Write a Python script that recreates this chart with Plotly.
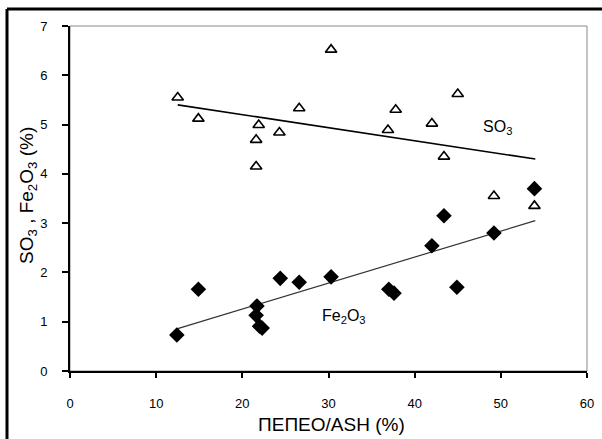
import plotly.graph_objects as go

# ---- data ----
so3_x = [12.5, 14.9, 21.9, 21.6, 21.6, 24.3, 26.6, 30.3, 36.9, 37.8, 42.0, 43.4, 45.0, 49.2, 53.9]
so3_y = [5.55, 5.12, 4.99, 4.69, 4.15, 4.84, 5.33, 6.52, 4.89, 5.30, 5.02, 4.35, 5.62, 3.55, 3.35]

fe_x = [12.4, 14.9, 21.7, 21.6, 22.0, 22.3, 24.4, 26.6, 30.3, 37.0, 37.6, 42.0, 43.4, 44.9, 49.2, 53.9]
fe_y = [0.73, 1.66, 1.32, 1.13, 0.91, 0.87, 1.88, 1.80, 1.91, 1.66, 1.58, 2.54, 3.15, 1.70, 2.80, 3.70]

so3_trend_x = [12.5, 54.0]
so3_trend_y = [5.40, 4.30]
fe_trend_x = [12.5, 54.0]
fe_trend_y = [0.86, 3.05]

x_ticks = [0, 10, 20, 30, 40, 50, 60]
y_ticks = [0, 1, 2, 3, 4, 5, 6, 7]

W, H = 602, 439
L, R, T, B = 70, 15, 26, 68
pw, ph = W - L - R, H - T - B

def px(x_page):
    return (x_page - L) / pw

def py(y_page):
    return (H - B - y_page) / ph

fig = go.Figure()
fig.add_trace(go.Scatter(x=so3_trend_x, y=so3_trend_y, mode="lines",
                         line=dict(color="black", width=1.6), showlegend=False))
fig.add_trace(go.Scatter(x=fe_trend_x, y=fe_trend_y, mode="lines",
                         line=dict(color="#333333", width=1.2), showlegend=False))
fig.add_trace(go.Scatter(x=so3_x, y=so3_y, mode="markers",
                         marker=dict(symbol="triangle-up-open", size=10, color="black",
                                     line=dict(width=1.6, color="black")),
                         showlegend=False))
fig.add_trace(go.Scatter(x=fe_x, y=fe_y, mode="markers",
                         marker=dict(symbol="diamond", size=12, color="black",
                                     line=dict(width=0)),
                         showlegend=False))

tickfont = dict(family="Liberation Sans Narrow, Liberation Sans, Arial", size=13, color="black")
fig.update_xaxes(range=[0, 60], tickvals=x_ticks, ticktext=[str(v) for v in x_ticks],
                 showgrid=False, zeroline=False, showline=True, linecolor="black",
                 linewidth=2, ticks="outside", ticklen=5, tickwidth=2, tickcolor="black",
                 tickfont=tickfont, ticklabelstandoff=14, automargin=False)
fig.update_yaxes(range=[0, 7], tickvals=y_ticks, ticktext=[str(v) for v in y_ticks],
                 showgrid=False, zeroline=False, showline=True, linecolor="black",
                 linewidth=2, ticks="outside", ticklen=6, tickwidth=2, tickcolor="black",
                 tickfont=tickfont, ticklabelstandoff=12, automargin=False)

labfont = dict(family="Liberation Sans, Arial", size=16, color="black")
titlefont = dict(family="Liberation Sans, Arial", size=19, color="black")
fig.add_annotation(x=49.6, y=4.95, text="SO<sub>3</sub>", showarrow=False,
                   xanchor="center", yanchor="middle", font=labfont)
fig.add_annotation(x=31.8, y=1.1, text="Fe<sub>2</sub>O<sub>3</sub>", showarrow=False,
                   xanchor="center", yanchor="middle", font=labfont)

fig.add_annotation(xref="paper", yref="paper", x=px(331), y=py(424),
                   text="ΠΕΠΕΟ/ASH (%)", showarrow=False, xanchor="center",
                   yanchor="middle", font=titlefont)
fig.add_annotation(xref="paper", yref="paper", x=px(28), y=py(196),
                   text="SO<sub>3</sub> , Fe<sub>2</sub>O<sub>3</sub> (%)", textangle=-90,
                   showarrow=False, xanchor="center", yanchor="middle", font=titlefont)

# gray frame on top/right of plot area
fig.add_shape(type="rect", xref="paper", yref="paper", x0=0, y0=0, x1=1, y1=1,
              line=dict(color="#888888", width=1), layer="below")
# outer black frame: only left and top edges are visible
fig.add_shape(type="line", xref="paper", yref="paper", x0=px(7), y0=py(9),
              x1=px(602), y1=py(9), line=dict(color="black", width=3))
fig.add_shape(type="line", xref="paper", yref="paper", x0=px(7), y0=py(9),
              x1=px(7), y1=py(439), line=dict(color="black", width=3))

fig.update_layout(width=W, height=H, margin=dict(l=L, r=R, t=T, b=B, autoexpand=False),
                  paper_bgcolor="white", plot_bgcolor="white", showlegend=False)

fig.write_html("out.html", config={"displayModeBar": False},
               post_script="document.body.style.margin='0';document.body.style.overflow='hidden';")
